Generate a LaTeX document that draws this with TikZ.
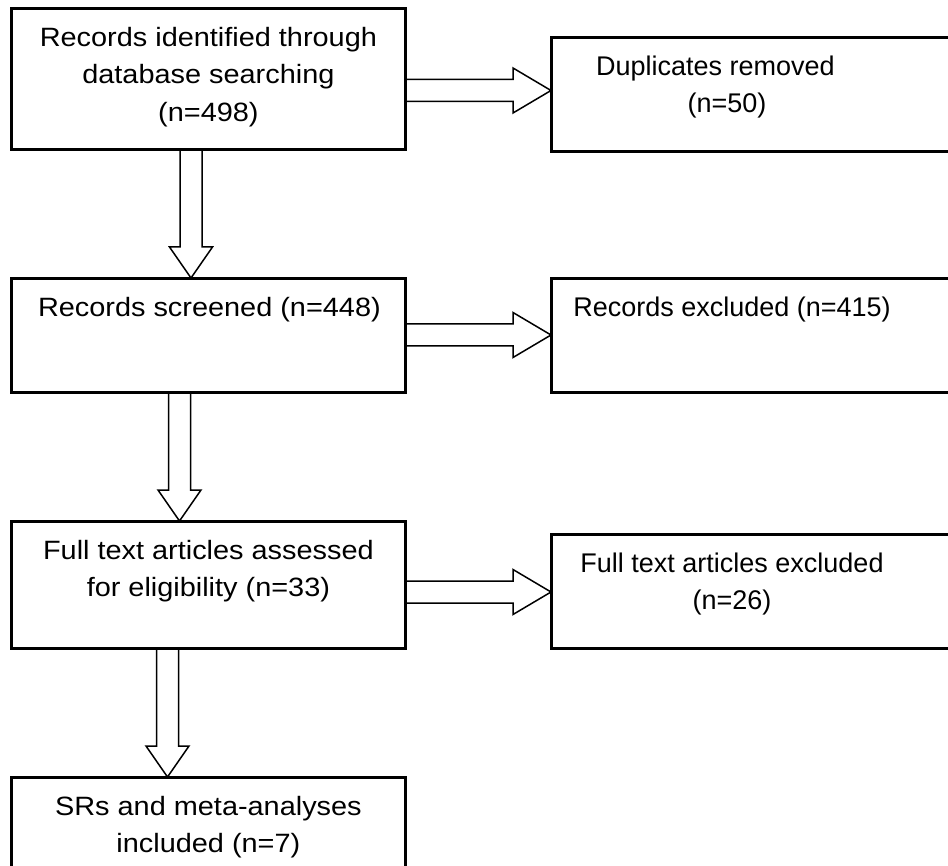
\documentclass[tikz,border=0pt]{standalone}
\usepackage{fontspec}
\setmainfont{Liberation Sans}
\newfontfamily\leftfont[FakeStretch=1.09]{Liberation Sans}
\usetikzlibrary{calc}
\tikzset{
  flowbox/.style={draw=black, line width=1.8pt, inner sep=0pt, anchor=north west},
  lefttext/.style={anchor=north, inner sep=0pt, align=center,
    font=\leftfont\fontsize{26.5}{37.5}\selectfont},
  righttext/.style={anchor=north, inner sep=0pt, align=center,
    font=\fontsize{27}{37}\selectfont},
  blk/.style={draw=black, line width=1.5pt, fill=white, line join=miter},
}
% block arrow pointing down: from node #1 to node #2 along vertical through coordinate #3
\newcommand\blkdown[3]{%
  \draw[blk] ($(#1.south -| #3)+(-11,0)$) -- ($(#2.north -| #3)+(-11,31)$)
    -- ($(#2.north -| #3)+(-21.5,31)$) -- (#2.north -| #3)
    -- ($(#2.north -| #3)+(21.5,31)$) -- ($(#2.north -| #3)+(11,31)$)
    -- ($(#1.south -| #3)+(11,0)$);}
% block arrow pointing right: from node #1 to node #2 along horizontal through coordinate #3
\newcommand\blkright[3]{%
  \draw[blk] ($(#1.east |- #3)+(0,11)$) -- ($(#2.west |- #3)+(-38,11)$)
    -- ($(#2.west |- #3)+(-38,22.5)$) -- (#2.west |- #3)
    -- ($(#2.west |- #3)+(-38,-22.5)$) -- ($(#2.west |- #3)+(-38,-11)$)
    -- ($(#1.east |- #3)+(0,-11)$);}
\begin{document}
\begin{tikzpicture}[x=1pt,y=1pt]
\useasboundingbox (0,0) rectangle (948,-866);
\clip (0,0) rectangle (948,-866);
\fill[white] (0,0) rectangle (948,-866);

% boxes (named)
\path (11,-8) node[flowbox, minimum width=393pt, minimum height=140pt] (A) {};
\path (11,-278) node[flowbox, minimum width=393pt, minimum height=113pt] (B) {};
\path (11,-521) node[flowbox, minimum width=393pt, minimum height=126pt] (C) {};
\path (11,-777) node[flowbox, minimum width=393pt, minimum height=113pt] (D) {};
\path (551,-37) node[flowbox, minimum width=420pt, minimum height=113pt] (Dup) {};
\path (551,-278) node[flowbox, minimum width=420pt, minimum height=113pt] (Rex) {};
\path (551,-534) node[flowbox, minimum width=420pt, minimum height=113pt] (Fex) {};

% arrow guide coordinates
\coordinate (vx1) at (191,0);
\coordinate (vx2) at (179.5,0);
\coordinate (vx3) at (167.5,0);
\coordinate (hy1) at (0,-90.5);
\coordinate (hy2) at (0,-335);
\coordinate (hy3) at (0,-592);

% connectors
\blkdown{A}{B}{vx1}
\blkdown{B}{C}{vx2}
\blkdown{C}{D}{vx3}
\blkright{A}{Dup}{hy1}
\blkright{B}{Rex}{hy2}
\blkright{C}{Fex}{hy3}

% redraw box outlines on top
\foreach \b in {A,B,C,D,Dup,Rex,Fex}{
  \draw[line width=1.8pt] (\b.north west) rectangle (\b.south east);
}

% texts
\node[lefttext] (tA) at ($(A.north)+(0,-19)$) {Records identified through\\database searching\\(n=498)};
\node[lefttext] (tB) at ($(B.north)+(1,-19)$) {Records screened (n=448)};
\node[lefttext] (tC) at ($(C.north)+(0,-19)$) {Full text articles assessed\\for eligibility (n=33)};
\node[lefttext] (tD) at ($(D.north)+(0,-19)$) {SRs and meta-analyses\\included (n=7)};
\node[righttext] (tDup) at ($(Dup.north west)+(176,-19)$) {Duplicates removed\hspace*{23pt}\\(n=50)};
\node[righttext] (tRex) at ($(Rex.north west)+(181,-19)$) {Records excluded (n=415)};
\node[righttext] (tFex) at ($(Fex.north west)+(181,-19)$) {Full text articles excluded\\(n=26)};
\end{tikzpicture}
\end{document}
